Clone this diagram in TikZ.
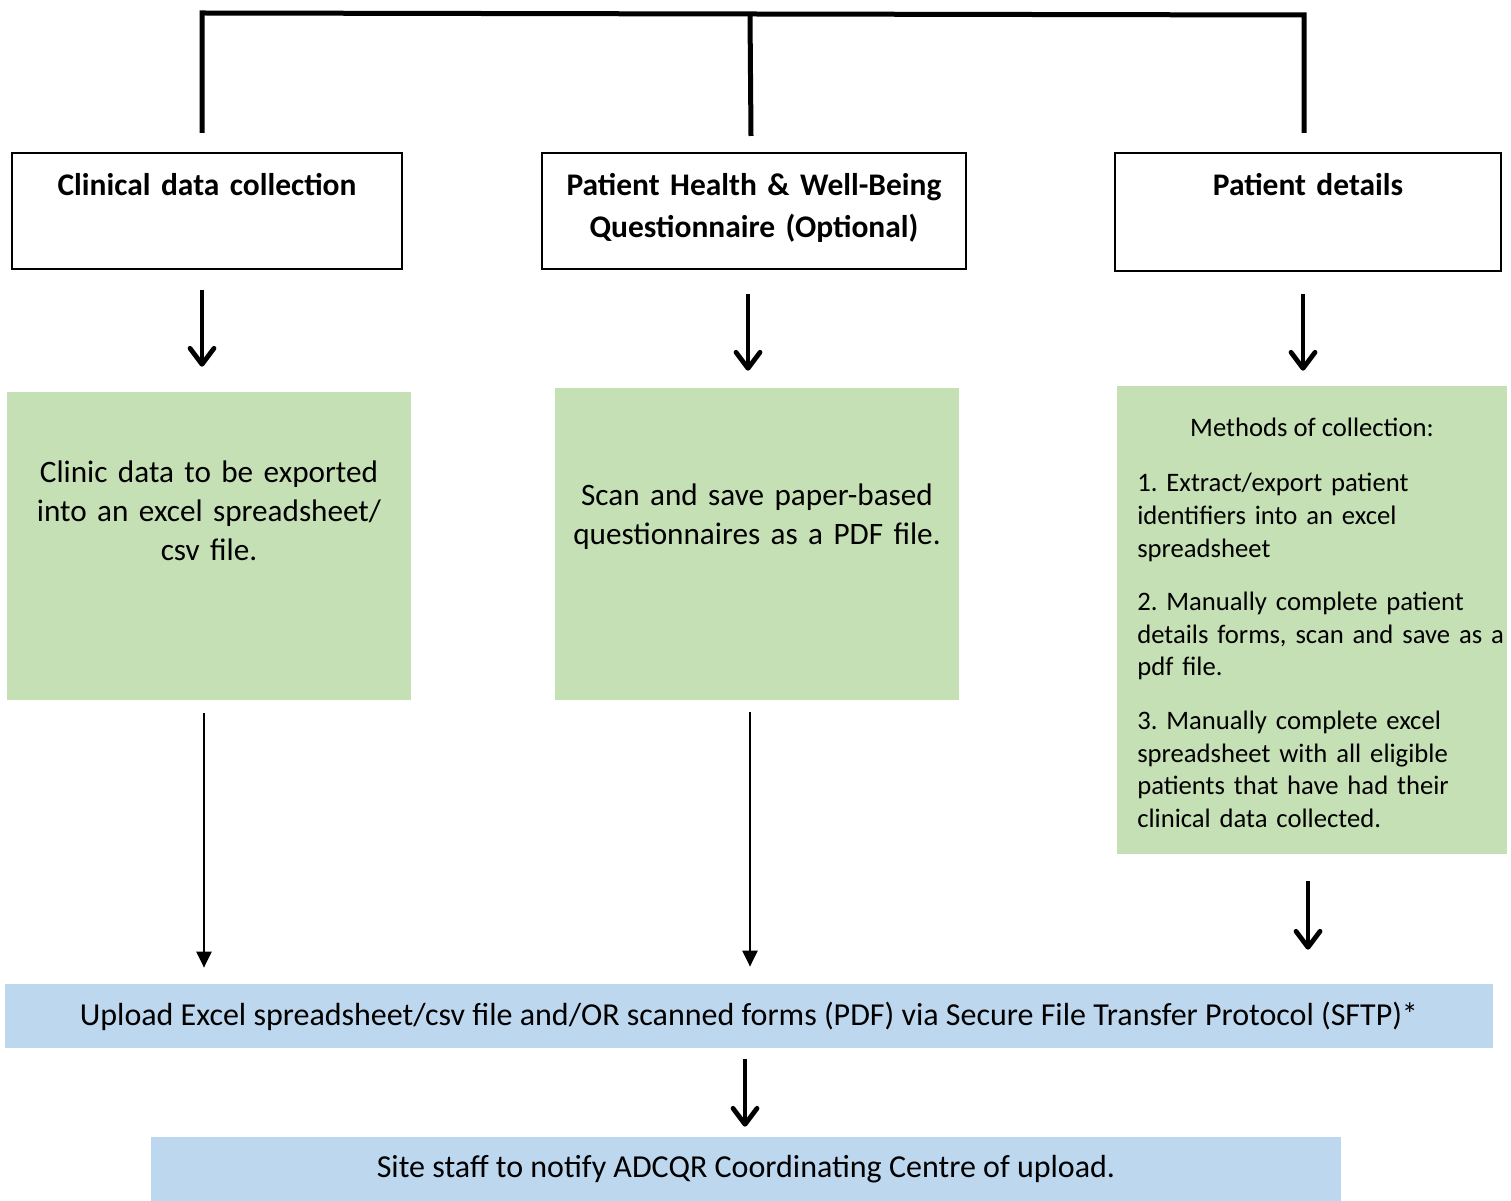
\documentclass[tikz,border=0pt]{standalone}
\usepackage{fontspec}
\setmainfont{Carlito}
\usetikzlibrary{arrows.meta}
\definecolor{grn}{HTML}{C5E0B4}
\definecolor{blu}{HTML}{BDD7EE}
\frenchspacing
\begin{document}
\begin{tikzpicture}[x=0.75pt,y=-0.75pt,
  hdrbox/.style={draw,line width=1.5pt,inner sep=0pt},
  grnbox/.style={fill=grn,inner sep=0pt},
  blubox/.style={fill=blu,inner sep=0pt,font=\fontsize{24}{29.25}\selectfont},
  hdrtext/.style={inner sep=0pt,anchor=base,text width=310pt,align=center,font=\bfseries\fontsize{23.6}{31.5}\selectfont},
  bodytext/.style={inner sep=0pt,anchor=base,text width=300pt,align=center,font=\fontsize{23.4}{29.25}\selectfont},
  smalltext/.style={inner sep=0pt,font=\fontsize{20}{24.4}\selectfont},
  bracket/.style={line width=3.75pt},
  bigarrow/.style={line width=3.6pt,-{Straight Barb[length=12pt,width=18pt,round]}},
  longarrow/.style={line width=2.2pt,-{Triangle[length=12pt,width=11pt]}}]
\useasboundingbox (0,0) rectangle (1511,1201);

% header boxes
\node[hdrbox,minimum width=292.5pt,minimum height=87pt] (hdr1) at (207,211) {};
\node[hdrbox,minimum width=318pt,minimum height=87pt] (hdr2) at (754,211) {};
\node[hdrbox,minimum width=289.5pt,minimum height=88.5pt] (hdr3) at (1308,212) {};
\node[hdrtext] (t1) at (207,196) {Clinical data collection};
\node[hdrtext] (t2) at (754,196) {Patient Health \& Well-Being\\Questionnaire (Optional)};
\node[hdrtext] (t3) at (1308,196) {Patient details};

% top bracket
\coordinate (b1) at (202,133);
\coordinate (b1top) at (202,13);
\coordinate (b2) at (751,136);
\coordinate (b2top) at (750,14);
\coordinate (b3) at (1304,133);
\coordinate (b3top) at (1304,15);
\draw[bracket] (b1) -- (b1top) -- (b3top) -- (b3);
\draw[bracket] (b2top) -- (b2);

% green boxes
\node[grnbox,minimum width=303pt,minimum height=231pt] (grn1) at (209,546) {};
\node[grnbox,minimum width=303pt,minimum height=234pt] (grn2) at (757,544) {};
\node[grnbox,minimum width=292.5pt,minimum height=351pt] (grn3) at (1312,620) {};
\node[bodytext] (g1) at (209,483) {Clinic data to be exported\\into an excel spreadsheet/\\csv file.};
\node[bodytext] (g2) at (757,506) {Scan and save paper-based\\questionnaires as a PDF file.};
\node[smalltext,anchor=base] (g3a) at (1312,437) {Methods of collection:};
\node[smalltext,anchor=base west,text width=280pt,align=left] (g3b) at (1137,492)
  {1. Extract/export patient\\identifiers into an excel\\spreadsheet\\[16pt]
   2. Manually complete patient\\details forms, scan and save as a\\pdf file.\\[16pt]
   3. Manually complete excel\\spreadsheet with all eligible\\patients that have had their\\clinical data collected.};

% blue bars
\node[blubox,minimum width=1116pt,minimum height=48pt] (up) at (749,1016)
  {Upload Excel spreadsheet/csv file and/OR scanned forms (PDF) via Secure File Transfer Protocol (SFTP)*};
\node[blubox,minimum width=892.5pt,minimum height=48pt] (notify) at (746,1169)
  {Site staff to notify ADCQR Coordinating Centre of upload.};

% arrows
\draw[bigarrow,shorten <=15pt,shorten >=18.75pt] ([xshift=-3.75pt]hdr1.south) -- ([xshift=-3.75pt]hdr1.south |- grn1.north);
\draw[bigarrow,shorten <=18pt,shorten >=12.75pt] ([xshift=-4.5pt]hdr2.south) -- ([xshift=-4.5pt]hdr2.south |- grn2.north);
\draw[bigarrow,shorten <=16.5pt,shorten >=11.25pt] ([xshift=-3.75pt]hdr3.south) -- ([xshift=-3.75pt]hdr3.south |- grn3.north);
\draw[longarrow,shorten <=9.75pt,shorten >=12pt] ([xshift=-3.75pt]grn1.south) -- ([xshift=-3.75pt]grn1.south |- up.north);
\draw[longarrow,shorten <=9pt,shorten >=12.75pt] ([xshift=-5.25pt]grn2.south) -- ([xshift=-5.25pt]grn2.south |- up.north);
\draw[bigarrow,shorten <=20.25pt,shorten >=25.5pt] ([xshift=-3pt]grn3.south) -- ([xshift=-3pt]grn3.south |- up.north);
\draw[bigarrow,shorten <=8.25pt,shorten >=7.5pt] ([xshift=-3pt]up.south) -- ([xshift=-3pt]up.south |- notify.north);
\end{tikzpicture}
\end{document}
